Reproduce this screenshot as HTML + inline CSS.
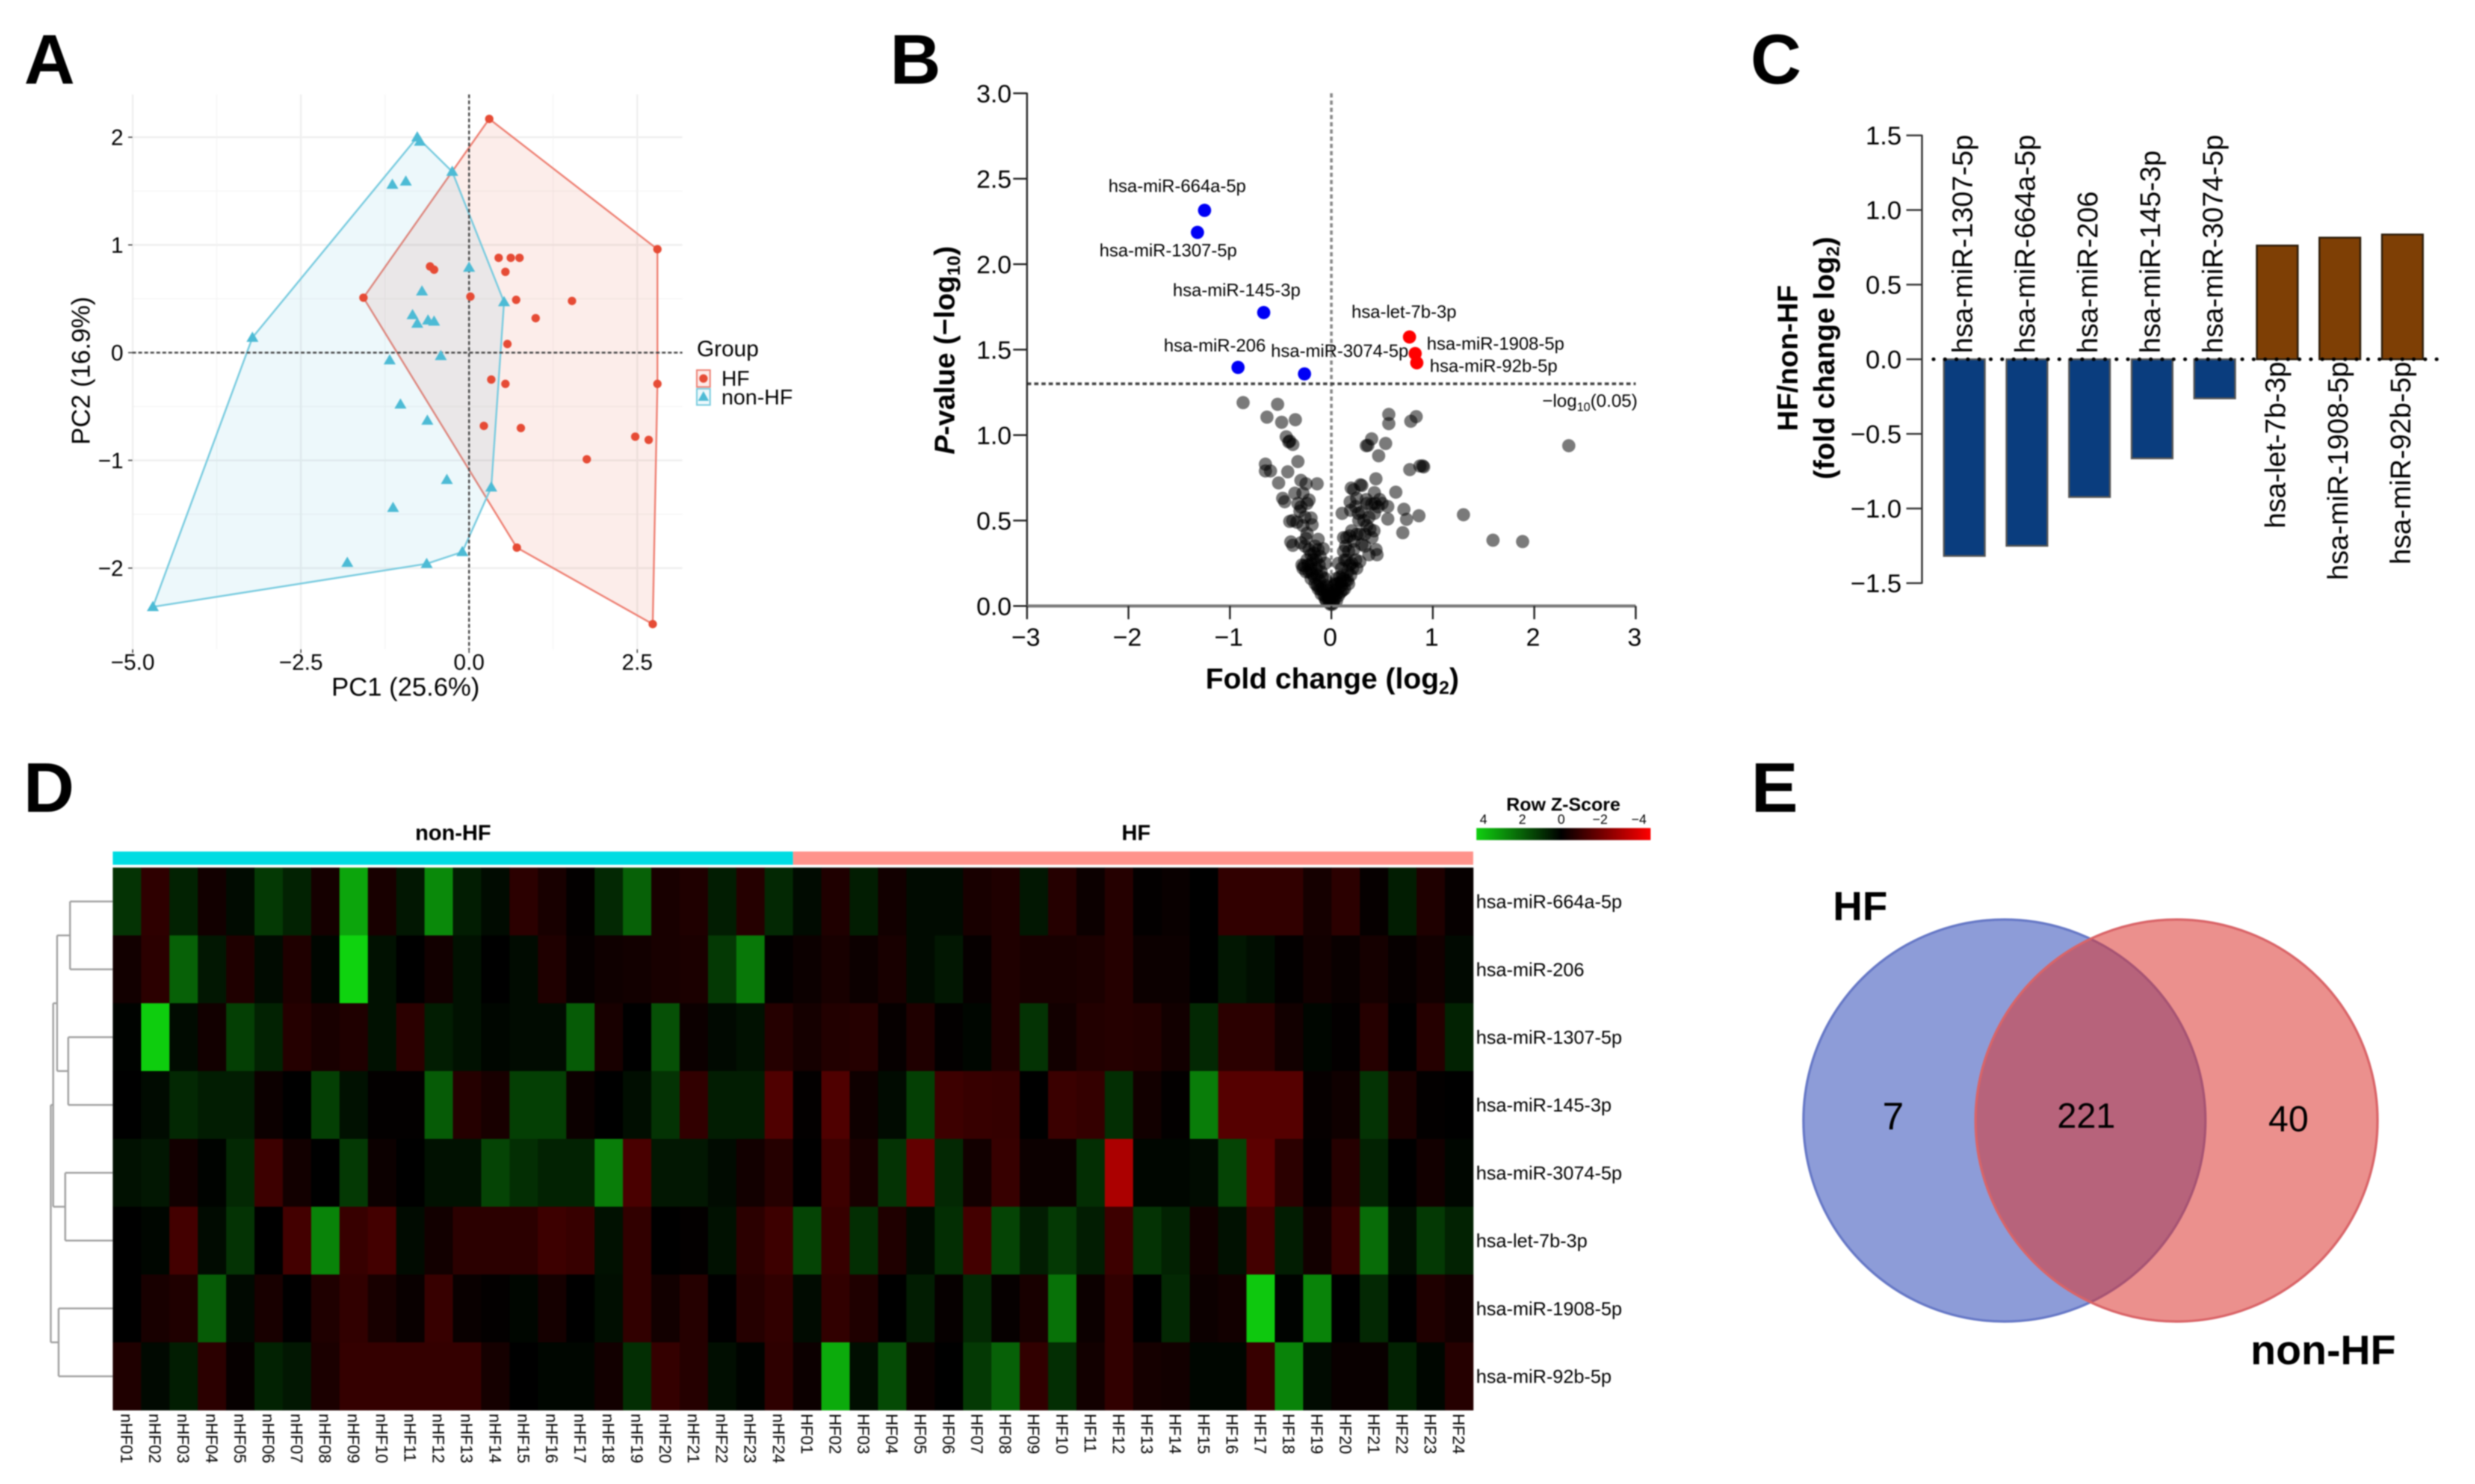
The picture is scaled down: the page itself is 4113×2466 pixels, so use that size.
<!DOCTYPE html>
<html lang="en">
<head>
<meta charset="utf-8">
<title>HF vs non-HF miRNA figure</title>
<style>
html,body{margin:0;padding:0;background:#fff}
svg{display:block;filter:blur(1px)}
text{font-family:"Liberation Sans",Arial,sans-serif;fill:#000}
.b{font-weight:700}
</style>
</head>
<body>
<svg id="root" xmlns="http://www.w3.org/2000/svg" width="4113" height="2466" viewBox="0 0 4113 2466">
<rect width="4113" height="2466" fill="#fff"/>
<g id="panelA"></g>
<g id="panelB"></g>
<g id="panelC"></g>
<g id="panelD"></g>
<g id="panelE">
  <circle cx="3331" cy="1862" r="334" fill="rgb(65,90,190)" fill-opacity=".6" stroke="#6678c6" stroke-width="4"/>
  <circle cx="3617" cy="1862" r="334" fill="rgb(218,52,48)" fill-opacity=".55" stroke="#d96468" stroke-width="4"/>
  <text x="3146" y="1877" font-size="64" text-anchor="middle">7</text>
  <text x="3467" y="1874" font-size="58" text-anchor="middle">221</text>
  <text x="3803" y="1880" font-size="60" text-anchor="middle">40</text>
  <text x="3046" y="1529" font-size="68" class="b">HF</text>
  <text x="3740" y="2267" font-size="69" class="b">non-HF</text>
</g>
<text x="40" y="139" font-size="117" class="b">A</text>
<text x="1479" y="139" font-size="117" class="b">B</text>
<text x="2909" y="139" font-size="117" class="b">C</text>
<text x="39" y="1349" font-size="117" class="b">D</text>
<text x="2910" y="1349" font-size="117" class="b">E</text>
</svg>
<script>
/* ---------- Panel A data ---------- */
const pcaTicksX = [-5, -2.5, 0, 2.5];
const pcaTickLabelsX = ['\u22125.0', '\u22122.5', '0.0', '2.5'];
const pcaTicksY = [-2, -1, 0, 1, 2];
const pcaTickLabelsY = ['\u22122', '\u22121', '0', '1', '2'];
const hfPc1 = [0.30, 2.80, 2.80, 2.73, 0.71, -1.57, 0.44, 0.62, 0.75, 0.54, -0.58, -0.52, 0.02, 0.70, 1.53, 0.99, 0.57, 0.33, 0.54, 0.22, 0.77, 2.47, 2.67, 1.75];
const hfPc2 = [2.17, 0.96, -0.29, -2.52, -1.81, 0.51, 0.88, 0.88, 0.88, 0.75, 0.80, 0.77, 0.52, 0.49, 0.48, 0.32, 0.08, -0.25, -0.29, -0.68, -0.70, -0.78, -0.81, -0.99];
const nonHfPc1 = [-0.77, -0.73, -0.25, -1.14, -0.94, 0.00, -0.70, 0.52, -0.84, -0.61, -0.52, -0.77, -3.22, -0.42, -1.18, -1.02, -0.62, -0.33, 0.33, -1.13, -0.10, -1.81, -0.63, -4.70];
const nonHfPc2 = [2.00, 1.96, 1.68, 1.56, 1.59, 0.79, 0.57, 0.47, 0.35, 0.30, 0.29, 0.27, 0.14, -0.03, -0.07, -0.48, -0.63, -1.18, -1.25, -1.44, -1.85, -1.95, -1.96, -2.36];

/* ---------- Panel B data ---------- */
const volcanoTicksX = [-3, -2, -1, 0, 1, 2, 3];
const volcanoTickLabelsX = ['\u22123', '\u22122', '\u22121', '0', '1', '2', '3'];
const volcanoTicksY = [0, 0.5, 1, 1.5, 2, 2.5, 3];
const volcanoTickLabelsY = ['0.0', '0.5', '1.0', '1.5', '2.0', '2.5', '3.0'];
const volcanoThreshold = [1.3];
const grayFold = [-.87,-.53,-.635,-.49,-.355,-.445,-.41,-.38,-.42,-.65,-.33,-.65,-.6,-.43,-.52,-.3,-.25,-.14,-.28,-.22,-.48,-.46,-.3,-.31,-.2,-.41,-.34,-.19,-.4,-.38,-.24,-.25,-.13,-.16,-.08,-.27,-.2,-.2,-.14,-.1,-.18,-.28,-.24,-.17,-.22,-.11,-.06,-.12,-.16,-.2,-.09,-.13,-.06,-.04,-.07,-.1,-.03,-.05,-.02,-.01,-.03,-.02,
 -.02,-.04,-.06,-.08,-.11,-.14,-.17,-.19,-.22,-.25,-.29,-.23,-.15,-.12,-.09,-.05,-.15,-.2,-.26,-.3,-.13,-.28,-.26,-.33,-.36,-.24,-.38,
 .01,.02,.03,.05,.04,.07,.09,.03,.06,.1,.13,.08,.12,.17,.16,.1,.13,.07,.2,.25,.12,.22,.28,.18,.22,.15,.28,.3,.33,.38,.42,.35,.45,.44,.37,
 .02,.05,.07,.09,.11,.14,.16,.19,.21,.18,.15,.24,.11,.05,.04,.17,.14,.25,.33,.2,.12,.4,.27,.32,.37,.46,.5,
 .566,.566,.783,.836,.397,.344,.36,.535,.466,.873,.91,.9,.773,.439,.286,.196,.3,.635,.424,.344,.185,.476,.238,.397,.556,.715,.106,.265,.741,.863,.556,.424,1.302,.704,1.593,1.885,2.34,.19,.22,.3,.35,.43,.25];
const grayP = [1.19,1.18,1.105,1.075,1.09,.99,.965,.945,.96,.83,.845,.79,.79,.785,.72,.735,.715,.715,.66,.62,.63,.61,.58,.555,.515,.495,.49,.475,.375,.355,.425,.395,.39,.35,.335,.235,.245,.21,.18,.2,.27,.22,.27,.31,.33,.29,.25,.15,.13,.16,.11,.1,.16,.09,.06,.07,.04,.03,.02,.01,.11,.07,
 .05,.06,.04,.09,.1,.12,.17,.19,.2,.2,.24,.24,.22,.24,.17,.12,.27,.3,.35,.37,.33,.47,.52,.6,.66,.6,.5,
 .01,.02,.04,.03,.09,.06,.08,.12,.13,.12,.1,.17,.16,.13,.2,.22,.27,.25,.25,.22,.32,.33,.26,.41,.38,.4,.42,.36,.42,.45,.44,.47,.3,.33,.3,
 .06,.07,.1,.14,.09,.15,.15,.18,.22,.24,.27,.27,.18,.16,.13,.32,.35,.42,.35,.44,.4,.4,.5,.5,.52,.58,.6,
 1.121,1.067,1.081,1.108,.978,.938,.94,.951,.879,.819,.814,.82,.798,.744,.709,.69,.705,.666,.663,.623,.609,.623,.582,.596,.582,.566,.542,.542,.507,.528,.509,.542,.534,.429,.385,.377,.938,.56,.68,.55,.6,.6,.63];
const downFold = [-1.25, -1.32, -0.667, -0.92, -0.265];
const downP = [2.315, 2.186, 1.717, 1.396, 1.358];
const upFold = [0.77, 0.826, 0.842];
const upP = [1.574, 1.477, 1.423];

/* ---------- Panel C data ---------- */
const barTicks = [-1.5, -1, -0.5, 0, 0.5, 1, 1.5];
const barTickLabels = ['\u22121.5', '\u22121.0', '\u22120.5', '0.0', '0.5', '1.0', '1.5'];
const barNames = ['hsa-miR-1307-5p', 'hsa-miR-664a-5p', 'hsa-miR-206', 'hsa-miR-145-3p', 'hsa-miR-3074-5p', 'hsa-let-7b-3p', 'hsa-miR-1908-5p', 'hsa-miR-92b-5p'];
const barValues = [-1.318, -1.25, -0.923, -0.664, -0.262, 0.762, 0.815, 0.836];

/* ---------- Panel D data ---------- */
const heatRows = ['hsa-miR-664a-5p', 'hsa-miR-206', 'hsa-miR-1307-5p', 'hsa-miR-145-3p', 'hsa-miR-3074-5p', 'hsa-let-7b-3p', 'hsa-miR-1908-5p', 'hsa-miR-92b-5p'];
const heatCols = ['nHF01','nHF02','nHF03','nHF04','nHF05','nHF06','nHF07','nHF08','nHF09','nHF10','nHF11','nHF12','nHF13','nHF14','nHF15','nHF16','nHF17','nHF18','nHF19','nHF20','nHF21','nHF22','nHF23','nHF24','HF01','HF02','HF03','HF04','HF05','HF06','HF07','HF08','HF09','HF10','HF11','HF12','HF13','HF14','HF15','HF16','HF17','HF18','HF19','HF20','HF21','HF22','HF23','HF24'];
const zRow664a = [.9,-.75,.6,-.3,.2,1,.6,-.35,2.9,-.4,.4,2.4,.5,.2,-.7,-.4,-.05,.7,1.7,-.4,-.5,.5,-.6,.7, .2,-.5,.5,-.3,.2,.2,-.4,-.5,.4,-.6,-.2,-.6,-.05,-.15,0,-.8,-.8,-.8,-.35,-.7,-.1,.5,-.5,-.1];
const zRow206 = [-.3,-.7,1.7,.4,-.5,.2,-.5,.1,3.7,.3,0,-.3,.3,0,.2,-.5,-.1,-.25,-.3,-.4,-.45,1,2.1,-.05, -.2,-.4,-.2,-.4,.2,.4,-.1,-.5,-.4,-.4,-.45,-.6,-.2,-.2,0,.4,.25,-.05,-.3,-.15,-.35,-.1,-.3,.15];
const zRow1307 = [.05,3.6,.2,-.3,1.1,.6,-.6,-.4,-.5,.3,-.7,.5,.3,.1,.2,.2,1.6,-.4,0,1.4,-.2,.15,.3,-.6, -.35,-.55,-.6,-.1,-.5,-.05,.1,-.5,.9,-.3,-.55,-.6,-.55,-.3,.7,-.7,-.7,-.3,.1,-.05,-.6,0,-.6,.6];
const zRow145 = [0,.2,.7,.5,.5,-.2,0,1.1,.3,-.05,-.05,1.6,-.6,-.4,1.1,1.1,-.2,0,.25,.9,-.8,.5,.5,-1.3, -.05,-1.3,-.25,.2,1.1,-1,-.9,-.85,0,-.95,-.85,.8,-.3,-.05,2.2,-1.4,-1.4,-1.4,-.1,-.25,.9,-.45,-.05,0];
const zRow3074 = [.3,.4,-.3,.05,.7,-1,-.3,0,1,-.2,0,.3,.3,1.2,.8,.6,.6,2.2,-1.2,.4,.4,.2,-.3,-.6, 0,-1,-.4,.9,-1.6,.7,-.3,-.9,-.2,-.2,.8,-2.8,.1,.1,.2,1.2,-1.5,-.7,-.05,-.6,.6,0,-.3,.1];
const zRowLet7b = [0,.1,-1.1,.2,.9,0,-1.1,2.3,-.9,-1.1,.2,-.3,-.7,-.7,-.7,-1,-.9,.3,-.8,0,-.05,.3,-.7,-1, 1.2,-.9,.8,-.5,.2,.8,-1.1,1.2,.5,1,.5,-1,.9,.6,-.3,.3,-1.1,.5,-.3,-.9,1.9,.25,1,.6];
const zRow1908 = [0,-.4,-.5,1.6,.15,-.4,0,-.5,-.8,-.4,-.15,-.9,-.15,-.05,.1,-.35,0,.25,-.8,-.3,-.6,0,-.6,-.8, .2,-.8,-.5,0,.5,-.1,.7,-.1,-.4,2,-.2,-.8,0,.7,-.2,-.3,3.5,.05,2.3,0,.7,0,-.5,-.3];
const zRow92b = [-.5,.15,.5,-.7,-.1,.6,.4,-.45,-.85,-.85,-.85,-.85,-.85,-.35,0,.1,.1,-.3,.8,-.85,-.6,.25,.05,-.75, -.2,3,.25,1.3,-.2,0,1,1.7,-.8,.8,-.3,-.8,-.35,-.3,.1,.1,-.9,2.3,.2,-.15,-.15,.6,.1,-.6];
const zRowsAll = [zRow664a, zRow206, zRow1307, zRow145, zRow3074, zRowLet7b, zRow1908, zRow92b];
const zScaleTicks = [4, 2, 0, -2, -4];
const zScaleLabels = ['4', '2', '0', '\u22122', '\u22124'];
/* dendrogram merge heights (tree distance units) */
const dendroLeafPairs = [[0, 1], [2, 3], [4, 5], [6, 7]];
const dendroPairHeights = [7.1, 7.4, 7.9, 9.0];
const dendroUpperHeights = [9.25, 9.9, 10.3];

/* ---------- helpers ---------- */
const NS = 'http://www.w3.org/2000/svg';
function el(parent, tag, attrs) {
  const n = document.createElementNS(NS, tag);
  for (const k in attrs) n.setAttribute(k, attrs[k]);
  parent.appendChild(n);
  return n;
}
function label(parent, x, y, str, size, anchor, rot, bold) {
  const n = el(parent, 'text', {
    'font-size': size,
    'text-anchor': anchor || 'start',
    transform: 'translate(' + x + ',' + y + ')' + (rot ? ' rotate(' + rot + ')' : '')
  });
  if (bold) n.setAttribute('class', 'b');
  n.textContent = str;
  return n;
}
function tspan(parent, str, attrs) {
  const t = el(parent, 'tspan', attrs || {});
  t.textContent = str;
  return t;
}
function hull(xs, ys) {
  const p = xs.map((x, i) => [x, ys[i]]).sort((a, b) => a[0] - b[0] || a[1] - b[1]);
  const cross = (o, a, b) => (a[0] - o[0]) * (b[1] - o[1]) - (a[1] - o[1]) * (b[0] - o[0]);
  const lo = [], up = [];
  for (const q of p) { while (lo.length > 1 && cross(lo[lo.length - 2], lo[lo.length - 1], q) <= 0) lo.pop(); lo.push(q); }
  for (const q of p.slice().reverse()) { while (up.length > 1 && cross(up[up.length - 2], up[up.length - 1], q) <= 0) up.pop(); up.push(q); }
  return lo.slice(0, -1).concat(up.slice(0, -1));
}

/* ---------- Panel A ---------- */
(function () {
  const g = document.getElementById('panelA');
  const sx = v => 779.5 + v * 111.8;
  const sy = v => 586 - v * 179;
  const L = 220, R = 1134, T = 157, B = 1079;
  const minorX = [-3.75, -1.25, 1.25], minorY = [-1.5, -0.5, 0.5, 1.5];
  minorX.forEach(v => {
    const m = el(g, 'line', { x1: sx(v), x2: sx(v), y1: T, y2: B, stroke: '#f4f4f4', 'stroke-width': 1.5 });
    
    
  });
  minorY.forEach(v => {
    const m = el(g, 'line', { x1: L, x2: R, y1: sy(v), y2: sy(v), stroke: '#f4f4f4', 'stroke-width': 1.5 });
    
    
  });
  pcaTicksX.forEach((v, i) => {
    const m = el(g, 'line', { x1: sx(v), x2: sx(v), y1: T, y2: B, stroke: '#efefef', 'stroke-width': 3 });
    
    
    const t = el(g, 'line', { x1: sx(v), x2: sx(v), y1: B, y2: B + 6, stroke: '#444', 'stroke-width': 2 });
    
    
    const l = label(g, sx(v), 1113, pcaTickLabelsX[i], 37, 'middle');
    
    
  });
  pcaTicksY.forEach((v, i) => {
    const m = el(g, 'line', { x1: L, x2: R, y1: sy(v), y2: sy(v), stroke: '#efefef', 'stroke-width': 3 });
    
    
    const t = el(g, 'line', { x1: L - 7, x2: L, y1: sy(v), y2: sy(v), stroke: '#444', 'stroke-width': 2 });
    
    
    const l = label(g, 205, sy(v) + 13, pcaTickLabelsY[i], 37, 'end');
    
    
  });
  const hfHull = hull(hfPc1, hfPc2).map(p => sx(p[0]) + ',' + sy(p[1])).join(' ');
  const nhHull = hull(nonHfPc1, nonHfPc2).map(p => sx(p[0]) + ',' + sy(p[1])).join(' ');
  const a = el(g, 'polygon', { points: hfHull, fill: '#e64b35', 'fill-opacity': .1, stroke: '#ee8073', 'stroke-width': 3 });
  
  
  const b = el(g, 'polygon', { points: nhHull, fill: '#4dbbd5', 'fill-opacity': .1, stroke: '#78cbdf', 'stroke-width': 3 });
  
  
  const h0 = el(g, 'line', { x1: L, x2: R, y1: sy(0), y2: sy(0), stroke: '#444', 'stroke-width': 3, 'stroke-dasharray': '6 4' });
  
  
  const v0 = el(g, 'line', { x1: sx(0), x2: sx(0), y1: T, y2: B, stroke: '#444', 'stroke-width': 3, 'stroke-dasharray': '6 4' });
  
  
  hfPc1.forEach((x, i) => {
    const c = el(g, 'circle', { cx: sx(x), cy: sy(hfPc2[i]), r: 7, fill: '#e64b35' });
    
    
  });
  nonHfPc1.forEach((x, i) => {
    const px = sx(x), py = sy(nonHfPc2[i]);
    const c = el(g, 'polygon', { points: px + ',' + (py - 10) + ' ' + (px + 10) + ',' + (py + 7) + ' ' + (px - 10) + ',' + (py + 7), fill: '#4dbbd5' });
    
    
  });
  const xt = label(g, 674, 1156, 'PC1 (25.6%)', 43, 'middle');
  
  
  const yt = label(g, 149, 616, 'PC2 (16.9%)', 43, 'middle', -90);
  
  
  const lg = label(g, 1158, 592, 'Group', 37);
  
  
  const k1 = el(g, 'rect', { x: 1158, y: 615, width: 22, height: 28, fill: '#fdebe9', stroke: '#ee8073', 'stroke-width': 2.5 });
  
  
  const k1p = el(g, 'circle', { cx: 1169, cy: 629, r: 7, fill: '#e64b35' });
  
  
  const k2 = el(g, 'rect', { x: 1158, y: 646, width: 22, height: 27, fill: '#edf8fb', stroke: '#78cbdf', 'stroke-width': 2.5 });
  
  
  const k2p = el(g, 'polygon', { points: '1169,650 1178,666 1160,666', fill: '#4dbbd5' });
  
  
  const t1 = label(g, 1199, 641, 'HF', 35);
  
  
  const t2 = label(g, 1199, 672, 'non-HF', 35.5);
  
  
})();

/* ---------- Panel B ---------- */
(function () {
  const g = document.getElementById('panelB');
  const sx = v => 2212.5 + v * 168.6;
  const sy = v => 1007 - v * 284;
  const v0 = el(g, 'line', { x1: sx(0), x2: sx(0), y1: sy(3), y2: sy(0), stroke: '#888', 'stroke-width': 4.5, 'stroke-dasharray': '7 5' });
  
  
  const h0 = el(g, 'line', { x1: sx(-3), x2: sx(3), y1: sy(volcanoThreshold[0]), y2: sy(volcanoThreshold[0]), stroke: '#444', 'stroke-width': 4.5, 'stroke-dasharray': '7 5' });
  
  
  grayFold.forEach((x, i) => {
    const c = el(g, 'circle', { cx: sx(x), cy: sy(grayP[i]), r: 11, fill: '#000', 'fill-opacity': .52 });
    
    
  });
  downFold.forEach((x, i) => {
    const c = el(g, 'circle', { cx: sx(x), cy: sy(downP[i]), r: 11, fill: '#0000f5' });
    
    
  });
  upFold.forEach((x, i) => {
    const c = el(g, 'circle', { cx: sx(x), cy: sy(upP[i]), r: 11, fill: '#ff0000' });
    
    
  });
  const yl = el(g, 'line', { x1: sx(-3), x2: sx(-3), y1: sy(3) - 1, y2: sy(0), stroke: '#222', 'stroke-width': 3 });
  
  
  const xl = el(g, 'line', { x1: sx(-3), x2: sx(3), y1: sy(0), y2: sy(0), stroke: '#777', 'stroke-width': 5 });
  
  
  volcanoTicksX.forEach((v, i) => {
    const t = el(g, 'line', { x1: sx(v), x2: sx(v), y1: sy(0), y2: sy(0) + 22, stroke: '#222', 'stroke-width': 3 });
    
    
    const l = label(g, sx(v) - 2, 1073, volcanoTickLabelsX[i], 42, 'middle');
    
    
  });
  volcanoTicksY.forEach((v, i) => {
    const t = el(g, 'line', { x1: sx(-3) - 23, x2: sx(-3), y1: sy(v), y2: sy(v), stroke: '#222', 'stroke-width': 3 });
    
    
    const l = label(g, 1681, sy(v) + 15, volcanoTickLabelsY[i], 42, 'end');
    
    
  });
  const names = [['hsa-miR-664a-5p', 1842, 319], ['hsa-miR-1307-5p', 1827, 426], ['hsa-miR-145-3p', 1949, 492], ['hsa-miR-206', 1934, 584], ['hsa-miR-3074-5p', 2112, 593], ['hsa-let-7b-3p', 2246, 528], ['hsa-miR-1908-5p', 2371, 581], ['hsa-miR-92b-5p', 2376, 618]];
  names.forEach(n => {
    const l = label(g, n[1], n[2], n[0], 29.6);
    
    
  });
  const th = label(g, 2563, 676, '\u2212log', 30);
  
  
  tspan(th, '10', { 'font-size': 20, dy: 7 });
  tspan(th, '(0.05)', { dy: -7 });
  const xt = label(g, 2214, 1144, 'Fold change (log', 48.5, 'middle', 0, true);
  
  
  tspan(xt, '2', { 'font-size': 31, dy: 9 });
  tspan(xt, ')', { dy: -9 });
  const yt = label(g, 1586, 582, '', 47.5, 'middle', -90, true);
  
  
  tspan(yt, 'P', { 'font-style': 'italic' });
  tspan(yt, '-value (\u2212log');
  tspan(yt, '10', { 'font-size': 30, dy: 9 });
  tspan(yt, ')', { dy: -9 });
})();

/* ---------- Panel C ---------- */
(function () {
  const g = document.getElementById('panelC');
  const sy = v => 597 - v * 248;
  const sx = i => 3264.4 + i * 104;
  const barW = 68;
  barValues.forEach((v, i) => {
    const r = el(g, 'rect', { x: sx(i) - barW / 2, y: Math.min(sy(v), sy(0)), width: barW, height: Math.abs(sy(v) - sy(0)), fill: v < 0 ? '#0a3d7e' : '#7e3f05', stroke: v < 0 ? '#555' : '#2a1a08', 'stroke-width': 3 });
    
    
    const l = v < 0 ? label(g, sx(i) + 13, 587, barNames[i], 47, 'start', -90) : label(g, sx(i) + 13, 601, barNames[i], 47, 'end', -90);
    
    
  });
  const z = el(g, 'line', { x1: 3213, x2: 4052, y1: sy(0), y2: sy(0), stroke: '#000', 'stroke-width': 6, 'stroke-linecap': 'round', 'stroke-dasharray': '0.5 18.5' });
  
  
  const ax = el(g, 'line', { x1: 3194, x2: 3194, y1: sy(1.5) - 1, y2: sy(-1.5) + 1, stroke: '#333', 'stroke-width': 3 });
  
  
  barTicks.forEach((v, i) => {
    const t = el(g, 'line', { x1: 3168, x2: 3194, y1: sy(v), y2: sy(v), stroke: '#333', 'stroke-width': 3 });
    
    
    const l = label(g, 3160, sy(v) + 15, barTickLabels[i], 43, 'end');
    
    
  });
  const t1 = label(g, 2987, 595, 'HF/non-HF', 47.5, 'middle', -90, true);
  
  
  const t2 = label(g, 3048, 595, '(fold change log', 48, 'middle', -90, true);
  
  
  tspan(t2, '2', { 'font-size': 30, dy: 8 });
  tspan(t2, ')', { dy: -8 });
})();

/* ---------- Panel D ---------- */
(function () {
  const g = document.getElementById('panelD');
  const X0 = 187.4, CW = 47.1, Y0 = 1441.7, RH = 112.7;
  const colorFor = z => z >= 0 ? 'rgb(' + Math.round(z * 4) + ',' + Math.round(z * 57) + ',' + Math.round(z * 4) + ')' : 'rgb(' + Math.round(-z * 61) + ',0,0)';
  const c1 = el(g, 'rect', { x: X0, y: 1415, width: CW * 24, height: 22, fill: '#00dce2' });
  
  
  const c2 = el(g, 'rect', { x: X0 + CW * 24, y: 1415, width: CW * 24, height: 22, fill: '#ff938b' });
  
  
  const g1 = label(g, 753, 1396, 'non-HF', 36, 'middle', 0, true);
  
  
  const g2 = label(g, 1888, 1396, 'HF', 36, 'middle', 0, true);
  
  
  zRowsAll.forEach((row, r) => {
    row.forEach((z, c) => {
      const cell = el(g, 'rect', { x: X0 + c * CW, y: Y0 + r * RH, width: CW + .4, height: RH + .4, fill: colorFor(z) });
      
      
    });
    const l = label(g, 2453, Y0 + (r + .5) * RH + 11, heatRows[r], 31.4);
    
    
  });
  heatCols.forEach((name, c) => {
    const l = label(g, X0 + (c + .5) * CW - 10, 2349, name, 27.5, 'start', 90);
    
    
  });
  /* dendrogram */
  const leafY = r => Y0 + (r + .5) * RH;
  const hx = h => X0 - h * 10;
  const seg = (x1, y1, x2, y2) => {
    const s = el(g, 'line', { x1: x1, y1: y1, x2: x2, y2: y2, stroke: '#a0a0a0', 'stroke-width': 3 });
    
    
  };
  const centers = dendroLeafPairs.map(p => (leafY(p[0]) + leafY(p[1])) / 2);
  dendroLeafPairs.forEach((p, i) => {
    const x = hx(dendroPairHeights[i]);
    seg(X0, leafY(p[0]), x, leafY(p[0]));
    seg(X0, leafY(p[1]), x, leafY(p[1]));
    seg(x, leafY(p[0]), x, leafY(p[1]));
  });
  const m1 = (centers[0] + centers[1]) / 2, m2 = (m1 + centers[2]) / 2;
  const xA = hx(dendroUpperHeights[0]), xB = hx(dendroUpperHeights[1]), xC = hx(dendroUpperHeights[2]);
  seg(hx(dendroPairHeights[0]), centers[0], xA, centers[0]);
  seg(hx(dendroPairHeights[1]), centers[1], xA, centers[1]);
  seg(xA, centers[0], xA, centers[1]);
  seg(xA, m1, xB, m1);
  seg(hx(dendroPairHeights[2]), centers[2], xB, centers[2]);
  seg(xB, m1, xB, centers[2]);
  seg(xB, m2, xC, m2);
  seg(hx(dendroPairHeights[3]), centers[3], xC, centers[3]);
  seg(xC, m2, xC, centers[3]);
  /* colour key */
  const defs = el(g, 'defs', {});
  const lg = el(defs, 'linearGradient', { id: 'zGrad', x1: 0, x2: 1, y1: 0, y2: 0 });
  el(lg, 'stop', { offset: 0, 'stop-color': '#10d010' });
  el(lg, 'stop', { offset: .487, 'stop-color': '#000' });
  el(lg, 'stop', { offset: 1, 'stop-color': '#ff0000' });
  const kb = el(g, 'rect', { x: 2453.5, y: 1376, width: 289.5, height: 20, fill: 'url(#zGrad)' });
  
  
  const kt = label(g, 2598, 1347, 'Row Z-Score', 31, 'middle', 0, true);
  
  
  zScaleTicks.forEach((v, i) => {
    const l = label(g, 2594.5 - v * 32.3, 1369, zScaleLabels[i], 22, 'middle');
    
    
  });
})();
</script>
</body>
</html>
